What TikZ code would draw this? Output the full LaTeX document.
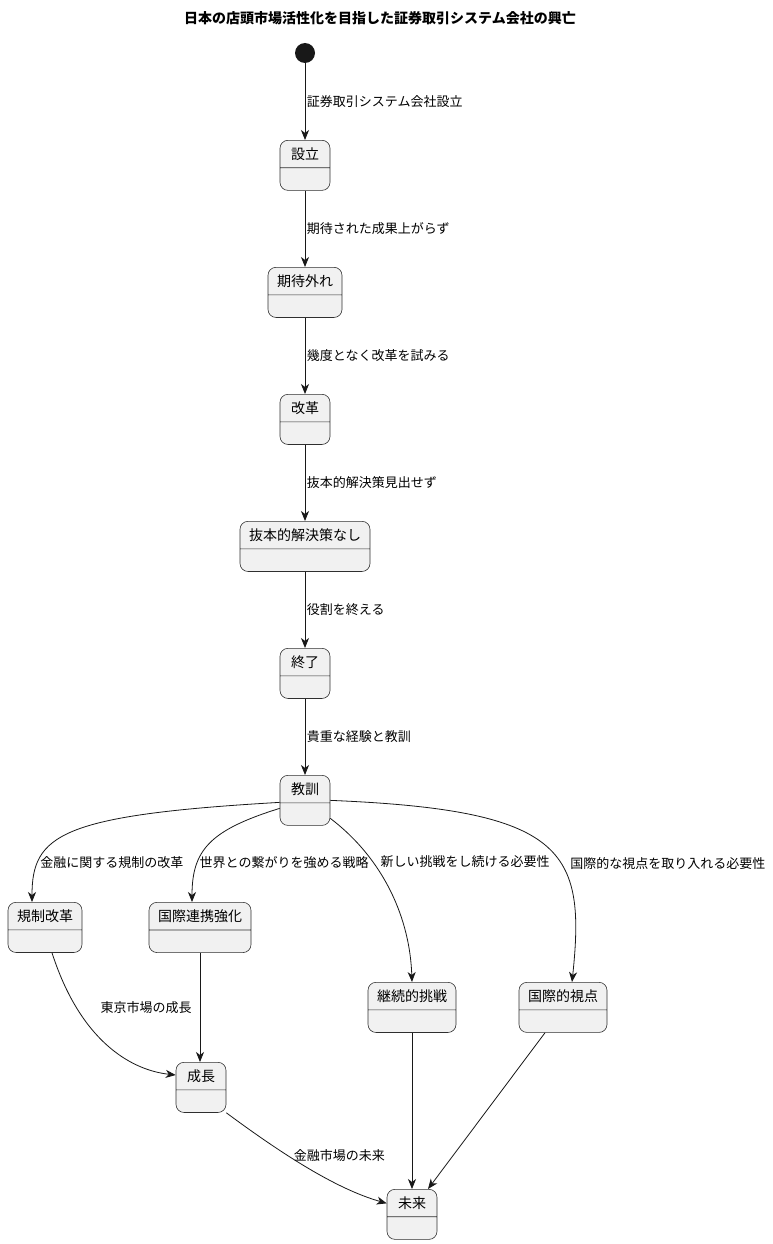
\documentclass[tikz,border=0pt]{standalone}
\usepackage{fontspec}
\setmainfont{Noto Sans CJK JP}
\usetikzlibrary{arrows.meta, shapes.multipart}
\definecolor{stategray}{HTML}{F1F1F1}
\definecolor{linedark}{HTML}{181818}

\begin{document}
\begin{tikzpicture}[x=1pt, y=-1pt,
        state/.style={rectangle split, rectangle split parts=2, draw=linedark!90, fill=stategray, rounded corners=8pt,
            minimum width=50pt, inner xsep=9pt, inner ysep=7pt, line width=0.6pt,
            rectangle split empty part height=8pt, rectangle split empty part depth=0pt,
            font=\fontsize{14}{16}\selectfont},
        arrow/.style={-{Stealth[length=10pt, width=8pt, inset=3pt]}, draw=linedark, line width=0.8pt},
        lbl/.style={font=\fontsize{13}{15}\selectfont, inner sep=1.5pt}
    ]
        \useasboundingbox (0,0) rectangle (772,1244);

        % Title
        \node[font=\bfseries\fontsize{14}{16}\selectfont] (title) at (380,18) {日本の店頭市場活性化を目指した証券取引システム会社の興亡};

        % Main line
        \node[circle, fill=linedark, inner sep=0pt, minimum size=20pt] (start) at (305,53) {};
        \node[state, anchor=north] (setsuritsu) at (305,140) {設立};
        \node[state, anchor=north] (kitaihazure) at (305,267) {期待外れ};
        \node[state, anchor=north] (kaikaku) at (305,394) {改革};
        \node[state, anchor=north] (bapponnashi) at (305,521) {抜本的解決策なし};
        \node[state, anchor=north] (shuryo) at (305,648) {終了};
        \node[state, anchor=north] (kyokun) at (305,775) {教訓};

        % Branches
        \node[state, anchor=north] (kiseikaikaku) at (45,902) {規制改革};
        \node[state, anchor=north] (renkei) at (200,902) {国際連携強化};
        \node[state, anchor=north] (keizoku) at (412,982) {継続的挑戦};
        \node[state, anchor=north] (shiten) at (563,982) {国際的視点};
        \node[state, anchor=north] (seicho) at (201,1062) {成長};
        \node[state, anchor=north] (mirai) at (412,1189) {未来};

        \draw[arrow] (start) -- (setsuritsu) node[midway, right, lbl] {証券取引システム会社設立};
        \draw[arrow] (setsuritsu) -- (kitaihazure) node[midway, right, lbl] {期待された成果上がらず};
        \draw[arrow] (kitaihazure) -- (kaikaku) node[midway, right, lbl] {幾度となく改革を試みる};
        \draw[arrow] (kaikaku) -- (bapponnashi) node[midway, right, lbl] {抜本的解決策見出せず};
        \draw[arrow] (bapponnashi) -- (shuryo) node[midway, right, lbl] {役割を終える};
        \draw[arrow] (shuryo) -- (kyokun) node[midway, right, lbl] {貴重な経験と教訓};

        \draw[arrow] ([yshift=-2pt]kyokun.west) .. controls (60,815) and (32,835) .. ([xshift=-13pt]kiseikaikaku.north)
            node[pos=0.77, anchor=west, lbl] {金融に関する規制の改革};
        \draw[arrow] ([yshift=-8pt]kyokun.west) .. controls (210,830) and (192,850) .. ([xshift=-8pt]renkei.north)
            node[pos=0.7, anchor=west, lbl] {世界との繋がりを強める戦略};
        \draw[arrow] ([yshift=-18pt]kyokun.east) .. controls (385,860) and (410,920) .. (keizoku.north)
            node[pos=0.31, anchor=west, xshift=6pt, lbl] {新しい挑戦をし続ける必要性};
        \draw[arrow] (kyokun.east) .. controls (565,810) and (586,850) .. ([xshift=9pt]shiten.north)
            node[pos=0.6, anchor=west, xshift=8pt, lbl] {国際的な視点を取り入れる必要性};

        \draw[arrow] ([xshift=7pt]kiseikaikaku.south) .. controls (80,1040) and (130,1070) .. ([yshift=-13pt]seicho.north west)
            node[pos=0.25, right=22pt, lbl] {東京市場の成長};
        \draw[arrow] (renkei.south) -- (renkei.south |- seicho.north);
        \draw[arrow] (keizoku) -- (mirai);
        \draw[arrow] ([xshift=-18pt]shiten.south) -- ([xshift=16pt]mirai.north);
        \draw[arrow] (seicho.south east) .. controls (290,1160) and (340,1190) .. ([yshift=11pt]mirai.west)
            node[pos=0.42, anchor=south west, xshift=-8pt, lbl] {金融市場の未来};

    \end{tikzpicture}
\end{document}
